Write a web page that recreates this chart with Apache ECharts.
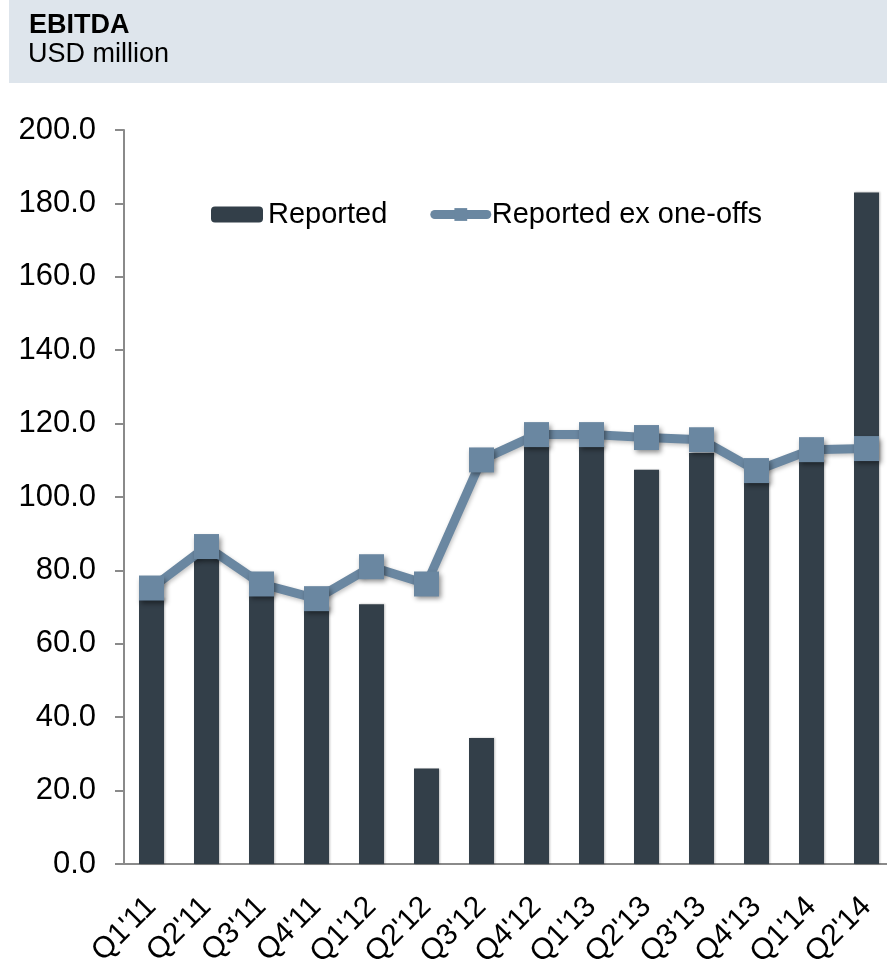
<!DOCTYPE html>
<html>
<head>
<meta charset="utf-8">
<script src="https://cdn.jsdelivr.net/npm/echarts@6/dist/echarts.min.js"></script>
<style>
  html, body { margin: 0; padding: 0; background: #fff; }
  #chart { width: 887px; height: 960px; }
</style>
</head>
<body>
<div id="chart"></div>
<script>
// quarters on the x axis
const quarters = ["Q1'11", "Q2'11", "Q3'11", "Q4'11", "Q1'12", "Q2'12", "Q3'12", "Q4'12", "Q1'13", "Q2'13", "Q3'13", "Q4'13", "Q1'14", "Q2'14"]
// EBITDA, USD million
const reported = [72.5, 83.2, 74.0, 70.0, 70.8, 26.0, 34.3, 114.0, 114.0, 107.4, 112.0, 104.0, 110.0, 183.0]
const exOneOffs = [75.2, 86.5, 76.3, 72.3, 81.0, 76.3, 110.1, 117.0, 117.0, 116.2, 115.6, 107.2, 112.9, 113.2]

const font = '"Liberation Sans", Arial, sans-serif'
const barColor = '#333f49'
const lineColor = '#6a87a1'
const axisColor = '#8a8a8a'

const mychart = echarts.init(document.getElementById('chart'))
mychart.setOption({
  animation: false,
  textStyle: { fontFamily: font, color: '#000' },
  graphic: [
    // header band
    { type: 'rect', left: 9, top: 0, shape: { width: 878, height: 83 }, style: { fill: '#dee5ec' }, z: -1 },
    { type: 'text', left: 29, top: 12, style: { text: 'EBITDA', font: 'bold 27px ' + font, fill: '#000' } },
    { type: 'text', left: 28, top: 41, style: { text: 'USD million', font: '27px ' + font, fill: '#000' } }
  ],
  legend: {
    left: 211,
    top: 200,
    padding: 0,
    itemWidth: 52,
    itemHeight: 16,
    itemGap: 43,
    textStyle: { fontSize: 29, color: '#000', fontFamily: font },
    data: [
      'Reported',
      { name: 'Reported ex one-offs', lineStyle: { width: 9, cap: 'round' } }
    ]
  },
  grid: {
    left: 124,
    right: -7,
    top: 130,
    bottom: 96,
    outerBoundsMode: 'none'
  },
  xAxis: {
    type: 'category',
    data: quarters,
    axisLine: { lineStyle: { color: axisColor, width: 2 } },
    axisTick: { length: 10, interval: 0, lineStyle: { color: axisColor, width: 2 } },
    axisLabel: {
      interval: 0,
      rotate: 45,
      margin: 38,
      fontSize: 30,
      color: '#000'
    }
  },
  yAxis: {
    type: 'value',
    min: 0,
    max: 200,
    interval: 20,
    axisLine: { show: true, lineStyle: { color: axisColor, width: 2 } },
    axisTick: { show: true, length: 9, lineStyle: { color: axisColor, width: 2 } },
    splitLine: { show: false },
    axisLabel: {
      margin: 28,
      fontSize: 31,
      color: '#000',
      formatter: v => v.toFixed(1)
    }
  },
  series: [
    {
      name: 'Reported',
      type: 'bar',
      data: reported,
      barWidth: 25,
      itemStyle: {
        color: barColor,
        shadowColor: 'rgba(0,0,0,0.25)',
        shadowBlur: 2,
        shadowOffsetX: 1
      }
    },
    {
      name: 'Reported ex one-offs',
      type: 'line',
      data: exOneOffs,
      symbol: 'rect',
      symbolSize: 25,
      lineStyle: {
        color: lineColor,
        width: 9,
        shadowColor: 'rgba(0,0,0,0.25)',
        shadowBlur: 4,
        shadowOffsetX: 1,
        shadowOffsetY: 2
      },
      itemStyle: {
        color: lineColor,
        shadowColor: 'rgba(0,0,0,0.45)',
        shadowBlur: 5,
        shadowOffsetX: 2,
        shadowOffsetY: 3
      }
    }
  ]
})
</script>
</body>
</html>
